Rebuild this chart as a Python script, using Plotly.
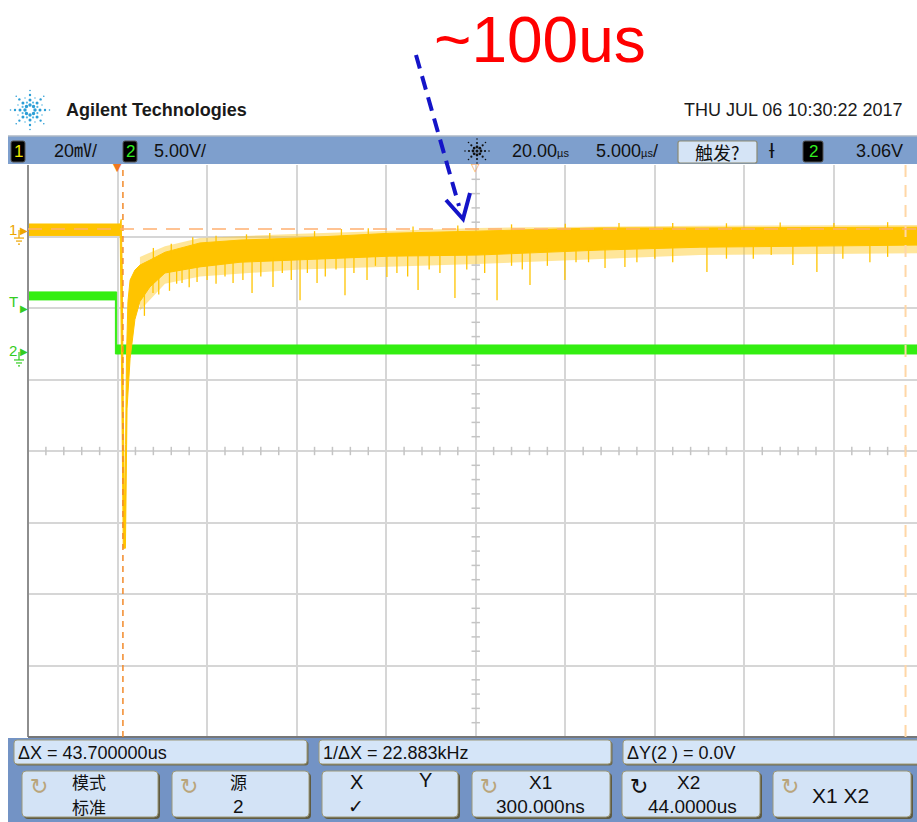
import numpy as np
import plotly.graph_objects as go

FIG_W, FIG_H = 917, 822

# ---------------- scope settings ----------------
T_PER_DIV_US = 5.0
T_VIEW_US = [-5.0, 44.64]
DELAY_US = 20.0
CH1_MV_PER_DIV = 20.0
CH1_GND_DIV = 3.09
CH2_V_PER_DIV = 5.0
CH2_GND_DIV = 1.385
TRIG_LEVEL_V = 3.06
CURSOR_X1_US = 0.3
CURSOR_X2_US = 44.0
CURSOR_Y_CH1_MV = 0.3

# ---------------- channel 1 (yellow) : dense noise band envelope ----------------
ch1_upper_t = [-5.0, 0.15, 0.2, 0.26, 0.32, 0.37, 0.40, 0.45, 0.5, 0.58, 0.7, 0.97, 1.25, 1.81, 2.65, 4.6,
               6.84, 10.19, 13.54, 15.2, 20.07, 26.94, 32.52, 38.1, 44.64]
ch1_upper_mv = [1.7, 1.7, 3.0, -10.0, -50.0, -82.0, -82.0, -60.0, -35.0, -20.0, -14.0, -11.2, -9.8, -8.4, -6.2, -3.6,
                -2.8, -2.2, -1.2, -0.9, -0.3, 0.6, 0.6, 0.6, 0.8]
ch1_lower_t = [44.64, 38.1, 32.52, 26.94, 20.07, 15.2, 13.54, 10.19, 6.84, 4.6, 2.65, 1.81, 1.25, 0.97,
               0.7, 0.53, 0.44, 0.32, 0.24, 0.18, 0.15, -5.0]
ch1_lower_mv = [-4.2, -4.5, -4.8, -5.6, -7.0, -7.3, -7.6, -8.4, -9.0, -10.3, -12.0, -15.9, -20.0, -25.0,
                -36.0, -50.0, -89.0, -89.0, -50.0, -8.0, -1.5, -1.5]
# lighter outer fuzz of the noise band
ch1_fuzz_t = [1.25, 2.65, 4.6, 10.19, 20.07, 32.52, 44.64]
ch1_fuzz_upper_mv = [-7.5, -4.5, -2.2, -1.0, 0.6, 1.2, 1.4]
ch1_fuzz_lower_mv = [-22.5, -15.0, -13.0, -11.0, -9.5, -7.0, -6.5]
# downward noise spikes (time, depth)
ch1_spike_t = [1.5, 1.98, 2.3, 2.9, 3.3, 3.60, 4.0, 4.44, 5.0, 5.5, 6.0, 6.45, 7.0, 7.51, 8.0, 8.68, 9.2, 9.7,
               10.19, 10.6, 11.14, 11.6, 12.2, 12.70, 13.2, 13.93, 14.4, 15.04, 15.6, 16.2, 16.78, 17.4, 18.0,
               18.84, 19.5, 20.5, 21.19, 22.0, 22.6, 23.03, 24.0, 24.98, 25.6, 26.3, 27.22, 28.33, 29.0, 30.0,
               31.0, 32.91, 34.0, 35.5, 36.5, 37.71, 39.05, 40.5, 42.01, 43.0]
ch1_spike_mv = [-24.0, -17.6, -18.0, -17.0, -15.0, -14.8, -16.0, -14.5, -14.0, -15.0, -13.0, -14.8, -14.0,
                -17.6, -13.0, -15.9, -12.0, -14.0, -19.6, -12.0, -14.8, -13.0, -11.0, -18.2, -12.0, -14.0,
                -10.0, -13.1, -12.0, -13.0, -16.8, -11.0, -12.0, -19.0, -11.0, -12.0, -19.6, -10.0, -11.0,
                -15.4, -10.0, -14.0, -9.0, -9.0, -10.6, -10.3, -9.0, -8.0, -9.0, -11.7, -8.0, -8.0, -7.0,
                -9.8, -11.7, -8.0, -9.0, -7.5]
# upward noise spikes (time, height)
ch1_up_t = [2.0, 3.0, 4.2, 5.5, 7.2, 8.5, 11.0, 12.5, 14.0, 16.5, 19.0, 22.0, 25.0, 28.0, 31.0, 34.0, 37.0,
            40.0, 43.0]
ch1_up_mv = [-5.0, -3.8, -2.0, -1.6, -1.2, -0.8, -0.3, 0.3, 0.5, 1.0, 1.3, 1.6, 1.8, 2.0, 2.0, 1.9, 2.1,
             2.0, 2.2]

# ---------------- channel 2 (green) : band ----------------
ch2_upper_t = [-5.0, -0.05, -0.05, 44.64]
ch2_upper_v = [4.2, 4.2, 0.49, 0.49]
ch2_lower_t = [44.64, -0.12, -0.12, -5.0]
ch2_lower_v = [-0.14, -0.14, 3.64, 3.64]

# ---------------- readouts ----------------
HEADER_BRAND = "Agilent Technologies"
HEADER_DATE = "THU JUL 06 10:30:22 2017"
READ_DX = "ΔX = 43.700000us"
READ_INV_DX = "1/ΔX = 22.883kHz"
READ_DY = "ΔY(2 ) = 0.0V"
NOTE_TEXT = "~100us"

YELLOW = "#FFC400"
GREEN = "#33EE11"
FONT = "Liberation Sans, Arial, Noto Sans CJK SC, sans-serif"
CJK = "Noto Sans CJK SC, sans-serif"


def px(x):
    return x / FIG_W


def py(y):
    return 1 - y / FIG_H


def ch1_div(mv):
    return CH1_GND_DIV + np.asarray(mv, dtype=float) / CH1_MV_PER_DIV


def ch2_div(v):
    return CH2_GND_DIV + np.asarray(v, dtype=float) / CH2_V_PER_DIV


PLOT_TOP, PLOT_BOT, PLOT_LEFT = 165, 737, 28


def div_to_pix(d):
    return PLOT_TOP + (4 - d) * (PLOT_BOT - PLOT_TOP) / 8


fig = go.Figure()

# minor ticks on the centre axes
tick_t = [t for t in np.arange(-5, 44.7, 1.0) if abs(t / 5 - round(t / 5)) > 1e-6]
fig.add_trace(go.Scatter(x=tick_t, y=[0] * len(tick_t), mode="markers", hoverinfo="skip",
                         marker=dict(symbol="line-ns", size=6, line=dict(width=1.5, color="#C4C4C4"))))
tick_y = [v for v in np.arange(-4, 4.01, 0.2) if abs(v - round(v)) > 1e-6]
fig.add_trace(go.Scatter(x=[DELAY_US] * len(tick_y), y=tick_y, mode="markers", hoverinfo="skip",
                         marker=dict(symbol="line-ew", size=6, line=dict(width=1.5, color="#C4C4C4"))))

# channel 2
fig.add_trace(go.Scatter(x=ch2_upper_t + ch2_lower_t, y=ch2_div(ch2_upper_v + ch2_lower_v),
                         fill="toself", fillcolor=GREEN, mode="lines",
                         line=dict(color=GREEN, width=1), hoverinfo="skip"))

# channel 1 outer fuzz
fig.add_trace(go.Scatter(x=ch1_fuzz_t + ch1_fuzz_t[::-1],
                         y=ch1_div(ch1_fuzz_upper_mv + ch1_fuzz_lower_mv[::-1]),
                         fill="toself", fillcolor="rgba(255,200,30,0.45)", mode="lines",
                         line=dict(width=0), hoverinfo="skip"))

# channel 1 dense band
fig.add_trace(go.Scatter(x=ch1_upper_t + ch1_lower_t, y=ch1_div(ch1_upper_mv + ch1_lower_mv),
                         fill="toself", fillcolor=YELLOW, mode="lines",
                         line=dict(color=YELLOW, width=1), hoverinfo="skip"))

# channel 1 spikes
base_dn = np.interp(ch1_spike_t, ch1_lower_t[::-1], ch1_lower_mv[::-1])
base_up = np.interp(ch1_up_t, ch1_upper_t, ch1_upper_mv)
sx, sy = [], []
for t, b, d in zip(ch1_spike_t, base_dn, ch1_spike_mv):
    sx += [t, t, None]
    sy += [float(ch1_div(b + 1.0)), float(ch1_div(d)), None]
for t, b, d in zip(ch1_up_t, base_up, ch1_up_mv):
    sx += [t, t, None]
    sy += [float(ch1_div(b - 1.0)), float(ch1_div(d)), None]
fig.add_trace(go.Scatter(x=sx, y=sy, mode="lines", line=dict(color=YELLOW, width=1.3), hoverinfo="skip"))

shapes = []
ann = []


def line(x0, y0, x1, y1, color, width=1, dash=None, xref="paper", yref="paper", layer="above"):
    d = dict(type="line", xref=xref, yref=yref, x0=x0, y0=y0, x1=x1, y1=y1,
             line=dict(color=color, width=width), layer=layer)
    if dash:
        d["line"]["dash"] = dash
    shapes.append(d)


def pline(x0, y0, x1, y1, color, width=1, dash=None):
    line(px(x0), py(y0), px(x1), py(y1), color, width, dash)


def rect(x0, y0, x1, y1, fill, lc=None, lw=0, r=0):
    if r <= 0:
        shapes.append(dict(type="rect", xref="paper", yref="paper", x0=px(x0), x1=px(x1),
                           y0=py(y1), y1=py(y0), fillcolor=fill,
                           line=dict(color=lc or fill, width=lw), layer="above"))
        return
    p = (f"M {px(x0 + r)},{py(y0)} L {px(x1 - r)},{py(y0)} Q {px(x1)},{py(y0)} {px(x1)},{py(y0 + r)} "
         f"L {px(x1)},{py(y1 - r)} Q {px(x1)},{py(y1)} {px(x1 - r)},{py(y1)} "
         f"L {px(x0 + r)},{py(y1)} Q {px(x0)},{py(y1)} {px(x0)},{py(y1 - r)} "
         f"L {px(x0)},{py(y0 + r)} Q {px(x0)},{py(y0)} {px(x0 + r)},{py(y0)} Z")
    shapes.append(dict(type="path", xref="paper", yref="paper", path=p, fillcolor=fill,
                       line=dict(color=lc or fill, width=lw), layer="above"))


def text(x, y, s, size=18, color="#151515", xa="left", ya="middle", family=FONT, xref="paper", yref="paper"):
    ann.append(dict(x=px(x) if xref == "paper" else x, y=py(y) if yref == "paper" else y,
                    xref=xref, yref=yref, text=s, showarrow=False, xanchor=xa, yanchor=ya,
                    font=dict(size=size, color=color, family=family)))


def dot(x, y, s, color):
    shapes.append(dict(type="circle", xref="paper", yref="paper", x0=px(x - s / 2), x1=px(x + s / 2),
                       y0=py(y + s / 2), y1=py(y - s / 2), fillcolor=color, line=dict(width=0), layer="above"))


def spark(cx, cy, rays, radii, sizes, color, center=0):
    for k in range(rays):
        a = 2 * np.pi * k / rays
        for r, s in zip(radii, sizes):
            dot(cx + r * np.cos(a), cy + r * np.sin(a), s, color)
    if center:
        dot(cx, cy, center, color)


# plot frame
pline(PLOT_LEFT, PLOT_TOP, PLOT_LEFT, PLOT_BOT, "#8E8E8E", 2)
pline(PLOT_LEFT, PLOT_BOT, FIG_W, PLOT_BOT, "#777777", 2)

# cursors
line(CURSOR_X1_US, py(PLOT_BOT), CURSOR_X1_US, py(PLOT_TOP), "#F28A2A", 1.5, "6px,5px", xref="x")
line(CURSOR_X2_US, py(PLOT_BOT), CURSOR_X2_US, py(PLOT_TOP), "#FFD7A6", 2, "12px,8px", xref="x")
ycur = float(ch1_div(CURSOR_Y_CH1_MV))
line(px(PLOT_LEFT), ycur, 1, ycur, "#FFB070", 1.5, "14px,9px", yref="y")

# trigger / delay markers on top edge
ann.append(dict(x=0.0, y=py(PLOT_TOP + 3), xref="x", yref="paper", text="▼", showarrow=False,
                font=dict(size=11, color="#F07820", family="DejaVu Sans"), xanchor="center", yanchor="middle"))
ann.append(dict(x=DELAY_US, y=py(PLOT_TOP + 3), xref="x", yref="paper", text="▽", showarrow=False,
                font=dict(size=11, color="#F5A050", family="DejaVu Sans"), xanchor="center", yanchor="middle"))

# left channel markers
g1 = div_to_pix(CH1_GND_DIV)
g2 = div_to_pix(CH2_GND_DIV)
gt = div_to_pix(CH2_GND_DIV + TRIG_LEVEL_V / CH2_V_PER_DIV)
C1M, C2M = "#EDA500", "#33CC22"
text(13, g1 - 1, "1", 15, C1M, "center")
text(24, g1, "▶", 10, C1M, "center", family="DejaVu Sans")
text(13, gt - 7, "T", 15, C2M, "center")
text(24, gt, "▶", 10, C2M, "center", family="DejaVu Sans")
text(13, g2 - 1, "2", 15, C2M, "center")
text(24, g2, "▶", 10, C2M, "center", family="DejaVu Sans")
for g, c in ((g1, C1M), (g2, C2M)):
    pline(19, g, 19, g + 8, c, 1.2)
    pline(14, g + 8, 24, g + 8, c, 1.2)
    pline(16, g + 11, 22, g + 11, c, 1.2)
    pline(18, g + 14, 20, g + 14, c, 1.2)

# header
spark(30, 110, 8, [5, 10, 15, 19.5], [3.4, 3.0, 2.4, 1.6], "#2C9ED6")
for k in range(8):
    a = 2 * np.pi * (k + 0.5) / 8
    for r, s in ((8, 2.2), (13, 1.6)):
        dot(30 + r * np.cos(a), 110 + r * np.sin(a), s, "#55B6E2")
text(64, 110, f"<b>{HEADER_BRAND}</b>", 18, "#1A1A1A")
text(904, 110, HEADER_DATE, 18, "#1A1A1A", "right")

# status bar
rect(8, 136, FIG_W, 164, "#7E9FCD")
pline(8, 136, FIG_W, 136, "#AEB8C6", 1.5)
rect(11, 141, 25, 162, "#000000", "#555555", 1, 2)
text(18, 151.5, "1", 17, "#F2E600", "center")
text(52, 151, "20㎷/", 18, "#111111")
rect(123, 141, 137, 162, "#000000", "#555555", 1, 2)
text(130, 151.5, "2", 17, "#33EE22", "center")
text(152, 151, "5.00V/", 18, "#111111")
spark(477, 151, 8, [4, 8, 12], [2.8, 2.2, 1.6], "#111111", center=3)
text(510, 151, "20.00<span style='font-size:11px'>µs</span>", 18, "#111111")
text(594, 151, "5.000<span style='font-size:11px'>µs</span>/", 18, "#111111")
rect(678, 141, 757, 163, "#D5E4F6", "#8C8A72", 1.2, 2)
text(717, 152, "触发?", 18, "#111111", "center", family=CJK)
text(772, 151, "ƚ", 20, "#111111", "center", family="DejaVu Sans")
rect(803, 141, 823, 162, "#000000", "#555555", 1, 2)
text(813, 151.5, "2", 17, "#33EE22", "center")
text(905, 151, "3.06V", 18, "#111111", "right")

# bottom panel
rect(8, 738, FIG_W, FIG_H, "#7393C5")
for x0, x1, s in ((14, 307, READ_DX), (319, 611, READ_INV_DX), (623, FIG_W + 4, READ_DY)):
    rect(x0 + 1.5, 741.5, x1 + 1.5, 765.5, "#6E6A4E", None, 0, 3)
    rect(x0, 740, x1, 764, "#D5E5F8", "#9C9878", 1, 3)
    text(x0 + 2, 752.5, s, 18, "#111111")

buttons = [(22, 158), (172, 309), (322, 458), (472, 610), (622, 760), (773, 911)]
for x0, x1 in buttons:
    rect(x0 + 2, 773, x1 + 2, 819, "#5F5B42", None, 0, 4)
    rect(x0, 771, x1, 817, "#D3E3F6", "#9C9878", 1, 4)
ICON_C = "#B9A57C"
for i, (x0, x1) in enumerate(buttons):
    if i == 2:
        continue
    text(x0 + 17, 786, "↻", 22, "#111111" if i == 4 else ICON_C, "center", family="DejaVu Sans")
text(89, 781, "模式", 17, "#111111", "center", family=CJK)
text(89, 806, "标准", 17, "#111111", "center", family=CJK)
text(238, 781, "源", 17, "#111111", "center", family=CJK)
text(238, 806, "2", 19, "#111111", "center")
text(356, 782, "X", 20, "#111111", "center")
text(425, 780, "Y", 20, "#111111", "center")
text(356, 806, "✓", 19, "#111111", "center", family="DejaVu Sans")
text(540, 782, "X1", 19, "#111111", "center")
text(540, 806, "300.000ns", 19, "#111111", "center")
text(688, 782, "X2", 19, "#111111", "center")
text(692, 806, "44.0000us", 19, "#111111", "center")
text(840, 795, "X1 X2", 21, "#111111", "center")

# annotation: red label and dashed blue arrow
text(432, 40, NOTE_TEXT, 64, "#FF0000")
pline(416, 55, 459, 206, "#1414C8", 4, "14px,8px")
shapes.append(dict(type="path", xref="paper", yref="paper",
                   path=f"M {px(446)},{py(200)} L {px(463)},{py(219)} L {px(470)},{py(193)}",
                   line=dict(color="#1414C8", width=4), layer="above"))

fig.update_layout(
    width=FIG_W, height=FIG_H, margin=dict(l=0, r=0, t=0, b=0),
    paper_bgcolor="white", plot_bgcolor="white", showlegend=False,
    xaxis=dict(domain=[px(PLOT_LEFT), 1], range=T_VIEW_US, tick0=-5, dtick=T_PER_DIV_US,
               showgrid=True, gridcolor="#D6D6D6", gridwidth=2, zeroline=False,
               showticklabels=False, ticks="", showline=False, fixedrange=True),
    yaxis=dict(domain=[py(PLOT_BOT), py(PLOT_TOP)], range=[-4, 4], dtick=1,
               showgrid=True, gridcolor="#D6D6D6", gridwidth=2, zeroline=False,
               showticklabels=False, ticks="", showline=False, fixedrange=True),
    shapes=shapes, annotations=ann,
)

fig.write_html("out.html")
